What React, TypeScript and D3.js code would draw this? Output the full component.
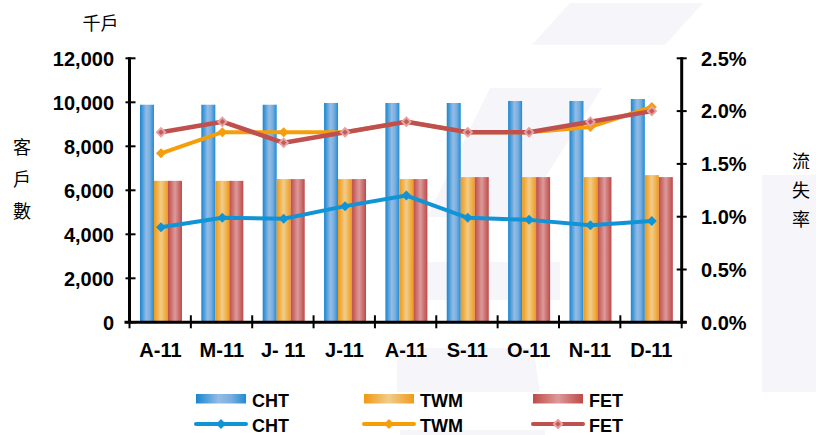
import React from "react";
import * as d3 from "d3";

const categories = ["A-11", "M-11", "J- 11", "J-11", "A-11", "S-11", "O-11", "N-11", "D-11"];
const chtSubs = [9890, 9890, 9890, 9970, 9970, 9970, 10060, 10060, 10150];
const twmSubs = [6430, 6430, 6510, 6510, 6510, 6600, 6600, 6600, 6690];
const fetSubs = [6430, 6430, 6510, 6510, 6510, 6600, 6600, 6600, 6600];
const chtChurn = [0.9, 0.99, 0.98, 1.1, 1.2, 0.99, 0.97, 0.92, 0.96];
const twmChurn = [1.6, 1.8, 1.8, 1.8, 1.9, 1.8, 1.8, 1.85, 2.04];
const fetChurn = [1.8, 1.9, 1.7, 1.8, 1.9, 1.8, 1.8, 1.9, 2.0];
const leftTicks = [0, 2000, 4000, 6000, 8000, 10000, 12000];
const rightTicks = [0, 0.5, 1.0, 1.5, 2.0, 2.5];
const seriesNames = ["CHT", "TWM", "FET"];

const W = 816;
const H = 435;
const X0 = 129.5;
const X1 = 681.7;
const Y0 = 322.3;
const YT = 58.3;

const FONT = "'Liberation Sans', Arial, sans-serif";
const CJK = "'Noto Sans CJK TC', 'Noto Sans CJK SC', sans-serif";

const lineColors = ["#1094d6", "#f59e0a", "#c0504d"];

export default function App() {
  const idx = categories.map((_, i) => i);
  const x = d3.scaleBand<number>().domain(idx).range([X0, X1]).paddingInner(0).paddingOuter(0);
  const yL = d3.scaleLinear().domain([0, 12000]).range([Y0, YT]);
  const yR = d3.scaleLinear().domain([0, 2.5]).range([Y0, YT]);
  const barW = 14;
  const barSeries = [chtSubs, twmSubs, fetSubs];
  const lineSeries = [chtChurn, twmChurn, fetChurn];
  const cx = (i: number) => (x(i) as number) + x.bandwidth() / 2 + 0.8;
  const lineGen = (vals: number[]) =>
    d3
      .line<number>()
      .x((_, i) => cx(i))
      .y((v) => yR(v))(vals) as string;

  const diamond = (px: number, py: number, r: number) =>
    `M${px},${py - r}L${px + r},${py}L${px},${py + r}L${px - r},${py}Z`;

  const marker = (s: number, px: number, py: number, key: string) => {
    if (s === 2) {
      return (
        <g key={key}>
          <path d={diamond(px, py, 5.5)} fill="#e6a3a3" />
          <path d={diamond(px, py, 2.8)} fill="#c55a5a" />
        </g>
      );
    }
    return <path key={key} d={diamond(px, py, 5)} fill={lineColors[s]} />;
  };

  const legendX = [196, 364, 533];

  return (
    <svg
      width={W}
      height={H}
      style={{ position: "fixed", left: 0, top: 0, background: "#ffffff" }}
      xmlns="http://www.w3.org/2000/svg"
    >
      <defs>
        <linearGradient id="gCHT" x1="0" y1="0" x2="1" y2="0">
          <stop offset="0" stopColor="#1886d0" />
          <stop offset="0.45" stopColor="#93bce6" />
          <stop offset="0.7" stopColor="#7aaee0" />
          <stop offset="1" stopColor="#1f8bd4" />
        </linearGradient>
        <linearGradient id="gTWM" x1="0" y1="0" x2="1" y2="0">
          <stop offset="0" stopColor="#f29810" />
          <stop offset="0.5" stopColor="#f0cd8c" />
          <stop offset="1" stopColor="#f09a1a" />
        </linearGradient>
        <linearGradient id="gFET" x1="0" y1="0" x2="1" y2="0">
          <stop offset="0" stopColor="#be4c49" />
          <stop offset="0.5" stopColor="#dc9a9a" />
          <stop offset="1" stopColor="#bd4a47" />
        </linearGradient>
      </defs>

      {/* faint watermark */}
      <g fill="#f5f5fa">
        <polygon points="532,45 570,3 703,3 665,45" />
        <polygon points="490,88 602,88 520,217 427,217" />
        <polygon points="390,262 560,262 560,300 390,300" />
        <polygon points="397,348 533,348 540,392 397,392" />
        <polygon points="400,430 545,430 545,435 400,435" />
        <polygon points="762,175 816,175 816,392 762,392" />
      </g>

      {/* bars */}
      {barSeries.map((vals, s) =>
        vals.map((v, i) => (
          <rect
            key={`b${s}-${i}`}
            x={cx(i) - 1.5 * barW + s * barW}
            y={yL(v)}
            width={barW}
            height={Y0 - yL(v)}
            fill={`url(#g${seriesNames[s]})`}
          />
        ))
      )}

      {/* lines */}
      {lineSeries.map((vals, s) => (
        <g key={`l${s}`}>
          <path d={lineGen(vals)} fill="none" stroke={lineColors[s]} strokeWidth={s === 2 ? 4.5 : 4} strokeLinejoin="round" />
          {vals.map((v, i) => marker(s, cx(i), yR(v), `m${s}-${i}`))}
        </g>
      ))}

      {/* axes */}
      <g stroke="#000" fill="none">
        <line x1={X0} y1={YT - 1} x2={X0} y2={Y0 + 1} strokeWidth={3} />
        <line x1={X1} y1={YT - 1} x2={X1} y2={Y0 + 1} strokeWidth={3} />
        <line x1={X0 - 5} y1={Y0} x2={X1 + 5} y2={Y0} strokeWidth={3} />
        {leftTicks.map((t) => (
          <line key={`lt${t}`} x1={X0 - 4} x2={X0 + 6} y1={yL(t)} y2={yL(t)} strokeWidth={2} />
        ))}
        {rightTicks.map((t) => (
          <line key={`rt${t}`} x1={X1 - 5} x2={X1 + 5} y1={yR(t)} y2={yR(t)} strokeWidth={2} />
        ))}
        {d3.range(categories.length + 1).map((k) => {
          const xx = X0 + k * x.bandwidth();
          return <line key={`xt${k}`} x1={xx} x2={xx} y1={Y0 - 7} y2={Y0 + 6} strokeWidth={2} />;
        })}
      </g>

      {/* tick labels */}
      <g fontFamily={FONT} fontWeight="bold" fontSize={20} fill="#000">
        {leftTicks.map((t) => (
          <text key={`ltl${t}`} x={114} y={yL(t)} dy="0.36em" textAnchor="end">
            {d3.format(",")(t)}
          </text>
        ))}
        {rightTicks.map((t) => (
          <text key={`rtl${t}`} x={701} y={yR(t)} dy="0.36em" textAnchor="start">
            {d3.format(".1f")(t) + "%"}
          </text>
        ))}
        {categories.map((c, i) => (
          <text key={`cl${i}`} x={cx(i) - 0.5} y={357} textAnchor="middle">
            {c}
          </text>
        ))}
      </g>

      {/* axis titles */}
      <g fontFamily={CJK} fontSize={18} fill="#000">
        <text x={100.5} y={30} textAnchor="middle">
          千戶
        </text>
        {["客", "戶", "數"].map((ch, k) => (
          <text key={`yl${k}`} x={22} y={154 + k * 32} textAnchor="middle">
            {ch}
          </text>
        ))}
        {["流", "失", "率"].map((ch, k) => (
          <text key={`yr${k}`} x={801} y={167.5 + k * 29} textAnchor="middle">
            {ch}
          </text>
        ))}
      </g>

      {/* legend */}
      <g fontFamily={FONT} fontWeight="bold" fontSize={18} fill="#000">
        {seriesNames.map((n, s) => (
          <g key={`lg${s}`}>
            <rect x={legendX[s]} y={394} width={50} height={9.5} fill={`url(#g${n})`} />
            <text x={legendX[s] + 56} y={407}>
              {n}
            </text>
            <line
              x1={legendX[s]}
              x2={legendX[s] + 50}
              y1={424}
              y2={424}
              stroke={lineColors[s]}
              strokeWidth={4}
              strokeLinecap="round"
            />
            {marker(s, legendX[s] + 25, 424, `lm${s}`)}
            <text x={legendX[s] + 56} y={432}>
              {n}
            </text>
          </g>
        ))}
      </g>
    </svg>
  );
}
